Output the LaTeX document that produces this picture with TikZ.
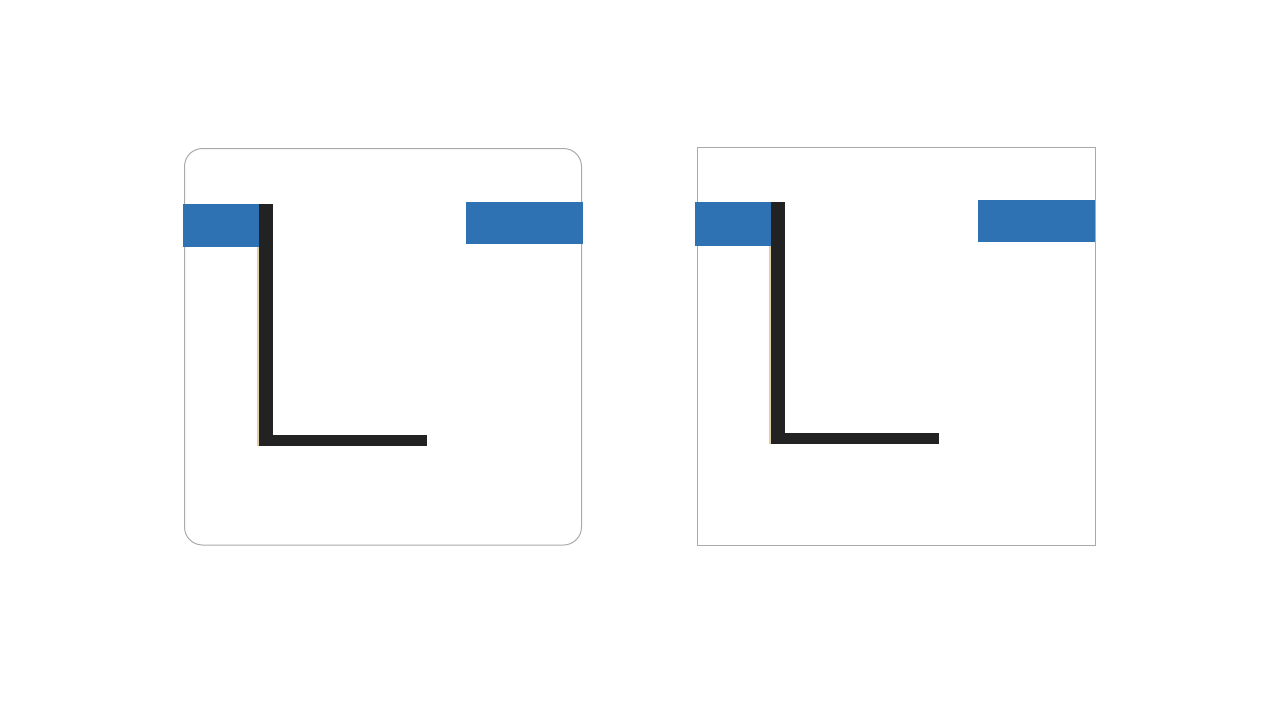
\documentclass[tikz,border=0pt]{standalone}
\definecolor{bblue}{HTML}{2E72B4}
\definecolor{bdark}{HTML}{222222}
\definecolor{bgray}{HTML}{AAAAAA}
\definecolor{bbeige}{HTML}{E2CDA6}
\tikzset{
  panel/.style={draw=bgray, line width=1pt, fill=white},
  bluebar/.style={fill=bblue, draw=none},
  lbar/.style={fill=bdark, draw=none},
  edgeline/.style={draw=bbeige, line width=1.6pt}
}
\begin{document}
\begin{tikzpicture}[x=1pt,y=-1pt]
\useasboundingbox (0,0) rectangle (1280,720);
\fill[white] (0,0) rectangle (1280,720);
% left panel
\draw[panel, rounded corners=18pt] (184.5,148.5) rectangle (581.5,545);
\draw[edgeline] (257.7,247) -- (257.7,446);
\fill[lbar] (259,204) rectangle (273,446);
\fill[lbar] (259,435) rectangle (427,446);
\fill[bluebar] (183,204) rectangle (259,247);
\fill[bluebar] (466,202) rectangle (583,243.5);
% right panel
\draw[panel] (697,147) rectangle (1095,545);
\draw[edgeline] (769.7,245) -- (769.7,444);
\fill[lbar] (771,202) rectangle (785,444);
\fill[lbar] (771,433) rectangle (939,444);
\fill[bluebar] (695,202) rectangle (771,245.5);
\fill[bluebar] (978,200) rectangle (1095,241.5);
\end{tikzpicture}
\end{document}
